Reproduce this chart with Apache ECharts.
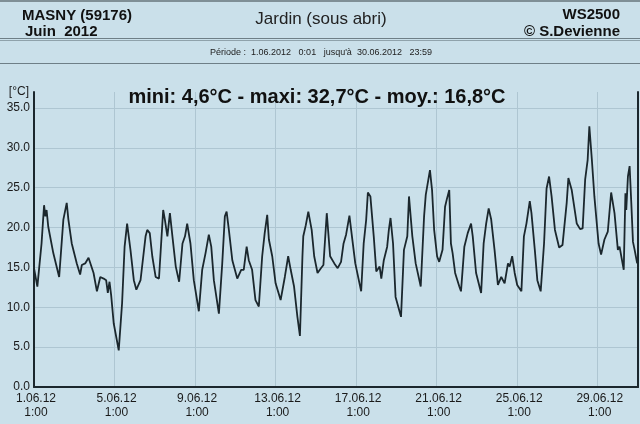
<!DOCTYPE html>
<html>
<head>
<meta charset="utf-8">
<script src="https://cdn.jsdelivr.net/npm/echarts@6/dist/echarts.min.js"></script>
<style>
html,body{margin:0;padding:0;background:#cae0ea;}
#c{width:640px;height:424px;}
</style>
</head>
<body>
<div id="c"></div>
<script>
// hours since 1.06.2012 00:00
const hours = [0,4,9,12,13.5,15,17,23,30,35,39,41,45,51,55,57,61,65,67,71,75,79,83,86,88,90,92,95,101,105,108,111,112,115,119,122,127,133,135,138,141,145,149,154,156,159,162,165,169,173,177,180,182.6,184,186.5,190.5,196.5,200.5,204.5,208.4,211.3,214.4,220.4,224.4,227.5,229.6,232.3,236.4,242.3,247,250,253.5,256,260,264,268,272,275,278,280,284,288,294,299,303,306,310,314,317,320,321,324,327,331,334,338,342,345,349,353,358,362,366,369,372,376,379,383,390,393,396,398,401,405,408,412,414,417,421,423,425,428,431,437.5,441,445,447,451,455,461,465,467,472,474.5,477,480.5,483,487,490,492,495,497,499,502,507,509,513,517,521,523,527,533,536,539,542,545,549,553,557,561,565,567,570,573,576,581,584,587,591,593,597,600,604,608,611,614,617,621,626,630,635,637,641,647,651,654,657,660,662,665,668,673,676,680,684,688,692,696,698,703,705,706,708,710,712,714,716,719];
const temps = [14.9,12.6,18.0,22.8,21.4,22.2,20.1,16.8,13.8,21.0,23.1,21.0,18.0,15.5,14.1,15.3,15.5,16.2,16.2,14.3,12.0,13.8,13.6,13.4,11.8,13.2,11.5,8.0,4.6,10.5,17.6,20.5,20.6,17.2,13.4,12.2,13.4,18.9,19.7,19.3,16.4,13.8,13.6,22.2,21.0,18.9,21.8,18.9,15.1,13.2,18.0,18.9,20.5,20.3,18.0,13.4,9.5,14.7,16.8,19.1,17.6,13.4,9.2,15.5,21.4,22.0,19.7,15.9,13.6,14.7,14.7,17.6,15.9,14.7,10.9,10.1,16.4,19.3,21.6,18.5,16.4,13.0,10.9,13.8,16.4,14.7,12.6,8.8,6.4,16.4,18.9,20.3,22.0,19.7,16.4,14.3,14.9,15.3,21.8,16.4,15.5,14.9,15.7,18.0,19.1,21.5,18.9,15.5,12.0,18.0,21.0,24.4,23.9,18.9,14.5,15.1,13.6,15.9,17.6,19.7,21.2,18.0,11.3,8.8,17.2,18.9,23.9,18.9,15.5,12.6,21.4,24.1,27.2,24.7,19.7,16.4,15.7,17.2,22.6,23.5,24.7,18.0,16.8,14.3,12.6,12.0,17.6,19.3,20.5,18.9,14.3,11.8,18.0,20.5,22.4,21.0,17.2,12.8,13.8,13.0,15.5,15.1,16.4,14.3,12.8,12.0,18.9,20.5,23.3,21.8,17.2,13.4,12.0,18.0,24.9,26.4,23.9,19.7,17.5,17.8,23.1,26.2,24.7,20.5,19.8,19.9,26.0,28.5,32.7,28.5,23.9,18.0,16.6,18.5,19.5,24.4,21.8,17.2,17.6,14.7,24.3,22.2,26.4,27.7,23.1,18.2,17.2,15.5];
const yTicks = [0,5,10,15,20,25,30,35];
const headerLeft = ['MASNY (59176)', 'Juin  2012'];
const headerRight = ['WS2500', '© S.Devienne'];
const headerCenter = 'Jardin (sous abri)';
const periodText = 'Période :  1.06.2012   0:01   jusqu\'à  30.06.2012   23:59';
const statsText = 'mini: 4,6°C - maxi: 32,7°C - moy.: 16,8°C';
const unitText = '[°C]';

const chart = echarts.init(document.getElementById('c'), null, {renderer: 'canvas'});
const dark = '#1b272d';
const gridCol = '#aec6d2';
const font = 'Liberation Sans, Arial, sans-serif';
const data = hours.map((h, i) => [h, temps[i]]);

chart.setOption({
  backgroundColor: '#cae0ea',
  animation: false,
  grid: {left: 34, right: 2, top: 92, bottom: 37, containLabel: false},
  xAxis: {
    type: 'value', min: 0, max: 720, interval: 96,
    axisLine: {show: true, lineStyle: {color: dark, width: 2}},
    axisTick: {show: false},
    splitLine: {show: true, lineStyle: {color: gridCol, width: 1}},
    axisLabel: {
      showMaxLabel: false, margin: 5, color: '#1a1a1a', fontFamily: font, fontSize: 12, lineHeight: 14,
      padding: [0, 0, 0, 4],
      formatter: v => (v / 24 + 1) + '.06.12\n1:00'
    }
  },
  yAxis: [{
    type: 'value', min: 0, max: 37, interval: 5,
    axisLine: {show: true, lineStyle: {color: dark, width: 2}},
    axisTick: {show: false},
    splitLine: {show: true, lineStyle: {color: [gridCol, gridCol, gridCol, gridCol, gridCol, gridCol, gridCol, gridCol, 'rgba(0,0,0,0)'], width: 1}},
    axisLabel: {
      showMaxLabel: false, margin: 4, color: '#1a1a1a', fontFamily: font, fontSize: 12,
      formatter: v => yTicks.includes(v) ? v.toFixed(1) : ''
    }
  }, {
    type: 'value', min: 0, max: 37, position: 'right',
    axisLine: {show: true, lineStyle: {color: dark, width: 2}},
    axisTick: {show: false}, axisLabel: {show: false}, splitLine: {show: false}
  }],
  series: [{
    type: 'line', data: data, showSymbol: false, symbol: 'none',
    lineStyle: {color: dark, width: 1.8}, clip: true
  }],
  graphic: [
    {type: 'rect', z: 100, shape: {x: 0, y: 0, width: 640, height: 2}, style: {fill: '#7f8f96'}},
    {type: 'line', z: 100, shape: {x1: 0, y1: 38.5, x2: 640, y2: 38.5}, style: {stroke: '#6e7f87', lineWidth: 1}},
    {type: 'line', z: 100, shape: {x1: 0, y1: 40.5, x2: 640, y2: 40.5}, style: {stroke: '#8fa2ab', lineWidth: 1}},
    {type: 'line', z: 100, shape: {x1: 0, y1: 63.5, x2: 640, y2: 63.5}, style: {stroke: '#6e7f87', lineWidth: 1}},
    {type: 'text', z: 100, left: 22, top: 8, style: {text: headerLeft[0], font: 'bold 15px ' + font, fill: '#111'}},
    {type: 'text', z: 100, left: 25, top: 24, style: {text: headerLeft[1], font: 'bold 15px ' + font, fill: '#111'}},
    {type: 'text', z: 100, right: 20, top: 7, style: {text: headerRight[0], font: 'bold 15px ' + font, fill: '#111'}},
    {type: 'text', z: 100, right: 20, top: 24, style: {text: headerRight[1], font: 'bold 15px ' + font, fill: '#111'}},
    {type: 'text', z: 100, x: 321, y: 19, style: {text: headerCenter, font: '17px ' + font, fill: '#222', align: 'center', verticalAlign: 'middle'}},
    {type: 'text', z: 100, x: 321, y: 53, style: {text: periodText, font: '9px ' + font, fill: '#222', align: 'center', verticalAlign: 'middle'}},
    {type: 'text', z: 100, x: 317, y: 97, style: {text: statsText, font: 'bold 20px ' + font, fill: '#111', align: 'center', verticalAlign: 'middle'}},
    {type: 'text', z: 100, x: 29, y: 92, style: {text: unitText, font: '12px ' + font, fill: '#1a1a1a', align: 'right', verticalAlign: 'middle'}}
  ]
});
</script>
</body>
</html>
